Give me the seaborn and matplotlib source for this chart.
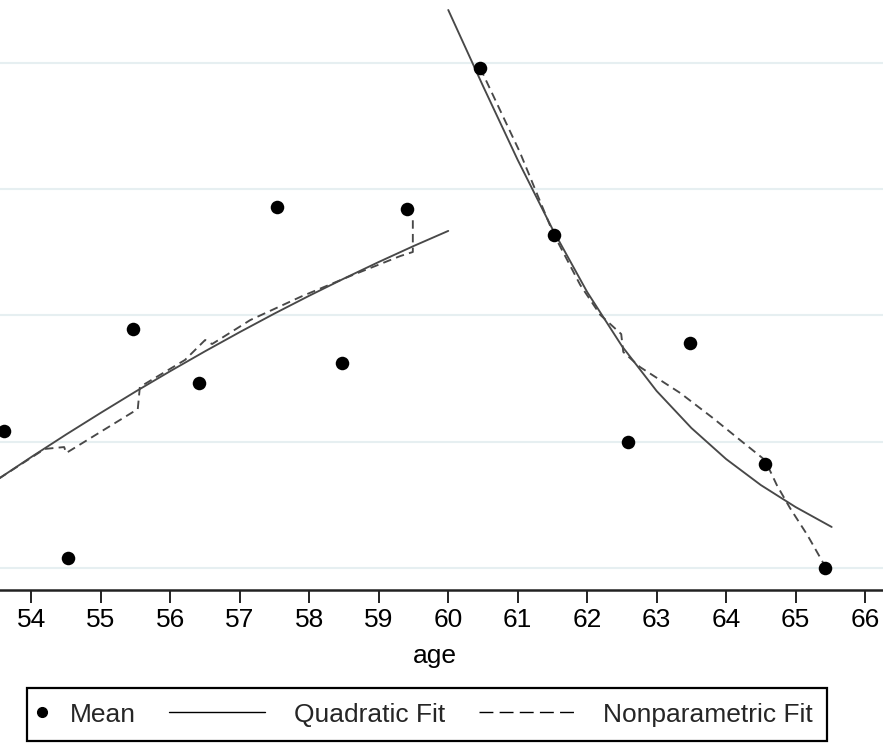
import numpy as np
import pandas as pd
import matplotlib
matplotlib.use("Agg")
import matplotlib.pyplot as plt
import seaborn as sns
from matplotlib.lines import Line2D
from matplotlib.legend_handler import HandlerBase

# ---------------- data ----------------
mean_age = [53.60, 54.53, 55.46, 56.41, 57.53, 58.47, 59.41,
            60.45, 61.52, 62.59, 63.48, 64.56, 65.42]
mean_val = [0.3085, 0.2079, 0.3893, 0.3465, 0.4859, 0.3624, 0.4844,
            0.5960, 0.4638, 0.2998, 0.3782, 0.2824, 0.2000]

quad_left_age = [53.5, 54.0, 54.5, 55.0, 55.5, 56.0, 56.5,
                 57.0, 57.5, 58.0, 58.5, 59.0, 59.5, 60.0]
quad_left_val = [0.2697, 0.2880, 0.3058, 0.3230, 0.3398, 0.3560, 0.3717,
                 0.3869, 0.4016, 0.4157, 0.4293, 0.4424, 0.4550, 0.4670]

quad_right_age = [60.0, 60.5, 61.0, 61.5, 62.0, 62.5, 63.0,
                  63.5, 64.0, 64.5, 65.0, 65.52]
quad_right_val = [0.6420, 0.5818, 0.5232, 0.4685, 0.4186, 0.3758, 0.3402,
                  0.3109, 0.2863, 0.2657, 0.2483, 0.2325]

np_left_age = [53.50, 54.19, 54.47, 54.50, 55.53, 55.56, 56.21, 56.50,
               56.60, 57.15, 57.87, 58.59, 59.31, 59.49, 59.49]
np_left_val = [0.2697, 0.2943, 0.2958, 0.2911, 0.3259, 0.3434, 0.3648, 0.3806,
               0.3774, 0.3964, 0.4147, 0.4313, 0.4471, 0.4503, 0.4796]

np_right_age = [60.46, 61.03, 61.51, 61.90, 62.19, 62.49, 62.52, 62.76,
                63.34, 63.81, 64.20, 64.56, 64.73, 64.92, 65.17, 65.44]
np_right_val = [0.5960, 0.5295, 0.4653, 0.4242, 0.4004, 0.3853, 0.3711, 0.3592,
                0.3386, 0.3188, 0.3014, 0.2855, 0.2657, 0.2475, 0.2261, 0.2000]

x_ticks = [54, 55, 56, 57, 58, 59, 60, 61, 62, 63, 64, 65, 66]
grid_vals = [0.2, 0.3, 0.4, 0.5, 0.6]
legend_labels = ["Mean", "Quadratic Fit", "Nonparametric Fit"]

# ---------------- style ----------------
sns.set_theme(style="white")
plt.rcParams["font.family"] = ["Liberation Sans Narrow", "Liberation Sans", "DejaVu Sans"]

FS = 19
LINE_C = "#484848"
DASH = (0, (4.5, 2.8))

fig = plt.figure(figsize=(8.83, 7.45), dpi=100)
ax = fig.add_axes([-0.04299, 0.20805, 1.06195, 0.79195])

sns.lineplot(x=quad_left_age, y=quad_left_val, sort=False, estimator=None,
             color=LINE_C, lw=1.35, ax=ax, zorder=2)
sns.lineplot(x=quad_right_age, y=quad_right_val, sort=False, estimator=None,
             color=LINE_C, lw=1.35, ax=ax, zorder=2)
sns.lineplot(x=np_left_age, y=np_left_val, sort=False, estimator=None,
             color=LINE_C, lw=1.35, linestyle=DASH, ax=ax, zorder=2)
sns.lineplot(x=np_right_age, y=np_right_val, sort=False, estimator=None,
             color=LINE_C, lw=1.35, linestyle=DASH, ax=ax, zorder=2)
sns.scatterplot(x=mean_age, y=mean_val, color="black", s=95, linewidth=0,
                ax=ax, zorder=3)

ax.set_xlim(53.0, 66.5)
ax.set_ylim(0.18257, 0.64990)
ax.set_xticks(x_ticks)
ax.set_xticklabels([str(t) for t in x_ticks], fontsize=FS)
ax.set_yticks(grid_vals)
ax.tick_params(axis="y", length=0, labelleft=False)
ax.tick_params(axis="x", direction="out", length=9.5, width=1.4, color="#222222",
               pad=3.5, labelcolor="black", bottom=True)
ax.grid(False)
ax.yaxis.grid(True, color="#e6eff1", lw=1.5)
for s in ["left", "right", "top"]:
    ax.spines[s].set_visible(False)
ax.spines["bottom"].set_color("#222222")
ax.spines["bottom"].set_linewidth(1.8)
ax.set_xlabel("age", fontsize=FS, color="black")
ax.xaxis.set_label_coords(0.5044, -0.092)
ax.set_ylabel("")


class ExtendedLineHandler(HandlerBase):
    def __init__(self, ext_pts, ls, **kw):
        super().__init__(**kw)
        self.ext = ext_pts
        self.ls = ls

    def create_artists(self, legend, orig_handle, xdescent, ydescent,
                       width, height, fontsize, trans):
        y = (height - ydescent) / 2
        ln = Line2D([-xdescent - self.ext, -xdescent + width], [y, y],
                    color=orig_handle.get_color(),
                    linestyle=self.ls,
                    lw=orig_handle.get_linewidth())
        ln.set_transform(trans)
        return [ln]


h_mean = Line2D([], [], marker="o", color="black", linestyle="None", markersize=7)
h_quad = Line2D([], [], color="black", lw=1.0)
h_np = Line2D([], [], color="black", lw=1.0)

leg = fig.legend([h_mean, h_quad, h_np], legend_labels,
                 loc="upper left", bbox_to_anchor=(27 / 883, 1 - 688 / 745),
                 borderaxespad=0, ncol=3, fontsize=FS, frameon=True,
                 fancybox=False, shadow=False, framealpha=1,
                 edgecolor="black", handlelength=0.0, handletextpad=1.08,
                 columnspacing=4.9, borderpad=0.55, numpoints=1,
                 handler_map={h_quad: ExtendedLineHandler(69, "-"),
                              h_np: ExtendedLineHandler(69, (0, (10, 4.5)))})
leg.get_frame().set_linewidth(1.6)

fig.savefig("out.png", dpi=100)
